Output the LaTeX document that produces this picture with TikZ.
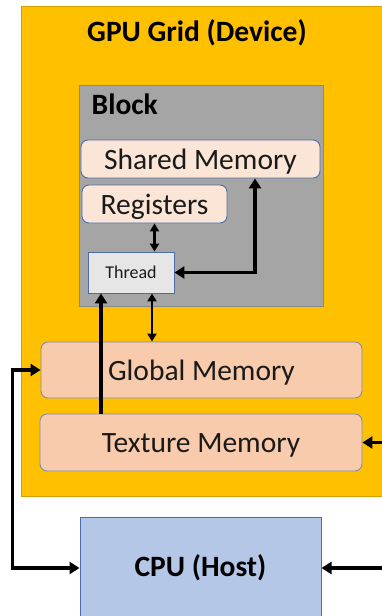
\documentclass[tikz,border=0pt]{standalone}
\usepackage{fontspec}
\setmainfont{Carlito}
\usetikzlibrary{arrows.meta}
\definecolor{gpuY}{HTML}{FFC000}
\definecolor{gpuB}{HTML}{D39E00}
\definecolor{blkF}{HTML}{A5A5A5}
\definecolor{blkB}{HTML}{8A8A8A}
\definecolor{shF}{HTML}{FBE5D6}
\definecolor{memF}{HTML}{F8CBAD}
\definecolor{thF}{HTML}{E7E6E6}
\definecolor{cpuF}{HTML}{B4C7E7}
\definecolor{bdr}{HTML}{4A6FA8}
\definecolor{mbdr}{HTML}{7F8FA9}
\definecolor{txt}{HTML}{1A1A1A}
\begin{document}
\begin{tikzpicture}[x=1pt,y=-1pt,
  big/.style={font=\fontsize{29.5}{33}\selectfont,text=txt,text height=22pt,text depth=2pt},
  bigb/.style={font=\fontsize{29.5}{33}\selectfont\bfseries},
  membox/.style={draw=bdr,line width=0.9pt,rounded corners=7pt,inner sep=0pt,big},
  conn/.style={line width=3.2pt,-{Triangle[length=10pt,width=12pt]}},
  connd/.style={line width=3.2pt,{Triangle[length=10pt,width=12pt]}-{Triangle[length=10pt,width=12pt]}},
  connt/.style={line width=2.4pt,{Triangle[length=8pt,width=9pt]}-{Triangle[length=8pt,width=9pt]}}]
\useasboundingbox (0,0) rectangle (382,616);
% GPU grid
\node[draw=gpuB,fill=gpuY,line width=1pt,minimum width=400pt,minimum height=490pt,inner sep=0pt,anchor=north west] (grid) at (21,6) {};
\node[bigb,anchor=base] (gridlbl) at (197,41.5) {GPU Grid (Device)};
% Block
\node[draw=blkB,fill=blkF,line width=1pt,minimum width=244pt,minimum height=221pt,inner sep=0pt] (block) at (201,195.5) {};
\node[bigb,anchor=base west,inner sep=0pt] (blocklbl) at (91.5,114) {Block};
% memories
\node[membox,fill=shF,minimum width=239pt,minimum height=38pt] (shared) at (200.5,159) {Shared Memory};
\node[membox,fill=shF,minimum width=145pt,minimum height=38pt] (regs) at (154.5,204) {Registers};
\node[draw=bdr,fill=thF,line width=0.9pt,minimum width=86pt,minimum height=41pt,inner sep=0pt,font=\fontsize{18}{21}\selectfont,text=txt] (thread) at (131,272.5) {Thread};
\node[membox,draw=mbdr,fill=memF,minimum width=321pt,minimum height=56pt] (global) at (201.5,370) {Global Memory};
\node[membox,draw=mbdr,fill=memF,minimum width=322pt,minimum height=57pt] (texture) at (201,442.5) {Texture Memory};
% CPU
\node[draw=bdr,fill=cpuF,line width=1pt,minimum width=241pt,minimum height=102pt,inner sep=0pt,bigb] (cpu) at (200.5,568) {CPU (Host)};
% connectors
\coordinate (lft) at (12.5,370);
\coordinate (rgt) at (400,500);
\draw[connt] (thread.north -| regs.south) -- (regs.south);
\draw[connd] (thread.east) -| ([xshift=54.5pt]shared.south);
\draw[connt] ([xshift=21pt]thread.south) -- ([xshift=21pt]thread.south |- global.north);
\draw[conn] ([xshift=-30pt]thread.south |- texture.north) -- ([xshift=-30pt]thread.south);
\draw[connd] (cpu.west) -| (lft) -- (global.west);
\draw[connd] (texture.east) -| (rgt) |- (cpu.east);
\end{tikzpicture}
\end{document}
